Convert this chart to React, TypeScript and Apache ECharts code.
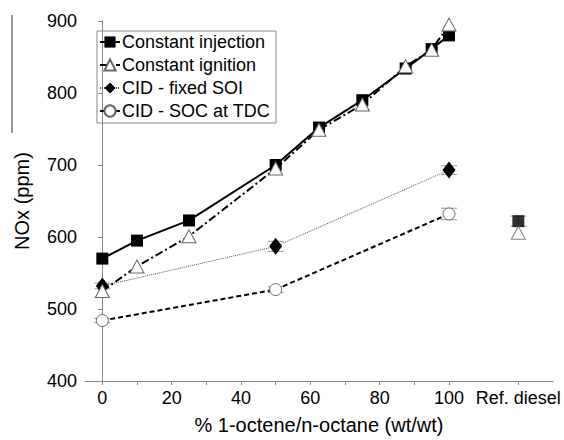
import React, { useEffect, useRef } from "react";
import * as echarts from "echarts";

const xMain = [0, 10, 25, 50, 62.5, 75, 87.5, 95, 100];
const yConstantInjection = [570, 595, 623, 700, 752, 790, 834, 861, 880];
const yConstantIgnition = [525, 559, 601, 695, 749, 784, 837, 860, 895];
const xCID = [0, 50, 100];
const yFixedSOI = [532, 587, 693];
const errFixedSOI = [4, 7, 6];
const ySOCatTDC = [484, 527, 632];
const errSOCatTDC = [3, 4, 8];
const xRefDiesel = 120;
const yRefInjection = 622;
const errRefInjection = 7;
const yRefIgnition = 606;
const xTicks = [0, 10, 20, 30, 40, 50, 60, 70, 80, 90, 100, 120];
const xLabels = [0, 20, 40, 60, 80, 100, 120];
const seriesNames = ["Constant injection", "Constant ignition", "CID - fixed SOI", "CID - SOC at TDC"];

const FONT = "'Liberation Sans', Arial, sans-serif";

export default function App() {
  const ref = useRef<HTMLDivElement>(null);
  useEffect(() => {
    if (!ref.current) return;
    const chart = echarts.init(ref.current, undefined, { renderer: "svg" });
    const pairs = (xs: number[], ys: number[]) => xs.map((x, i) => [x, ys[i]]);
    const errData = [
      ...xCID.map((x, i) => [x, yFixedSOI[i], errFixedSOI[i]]),
      ...xCID.map((x, i) => [x, ySOCatTDC[i], errSOCatTDC[i]]),
      [xRefDiesel, yRefInjection, errRefInjection],
    ];
    chart.setOption({
      animation: false,
      backgroundColor: "#fff",
      textStyle: { fontFamily: FONT },
      grid: { left: 85, right: 11, top: 21, bottom: 58 },
      legend: {
        data: seriesNames,
        orient: "vertical",
        left: 97,
        top: 31,
        padding: [2, 6, 3, 2],
        itemGap: 5,
        itemWidth: 20,
        itemHeight: 14,
        borderColor: "#888",
        borderWidth: 1,
        textStyle: { fontSize: 18, color: "#000", fontFamily: FONT, padding: [0, 0, 0, -3] },
      },
      xAxis: {
        type: "value",
        min: -5,
        max: 130,
        axisLine: { lineStyle: { color: "#888", width: 1 } },
        axisTick: { show: true, length: 4, inside: false, lineStyle: { color: "#888" }, customValues: xTicks },
        axisLabel: {
          fontSize: 18,
          color: "#000",
          margin: 8,
          customValues: xLabels,
          formatter: (v: number) => (v === xRefDiesel ? "Ref. diesel" : String(v)),
        },
        splitLine: { show: false },
        name: "% 1-octene/n-octane (wt/wt)",
        nameLocation: "middle",
        nameGap: 34,
        nameTextStyle: { fontSize: 20, color: "#000" },
      },
      yAxis: {
        type: "value",
        min: 400,
        max: 900,
        interval: 100,
        axisLine: { show: true, lineStyle: { color: "#888", width: 1 } },
        axisTick: { show: true, length: 4, lineStyle: { color: "#888" } },
        axisLabel: { fontSize: 18, color: "#000", margin: 8 },
        splitLine: { show: false },
        name: "NOx (ppm)",
        nameLocation: "middle",
        nameGap: 53,
        nameTextStyle: { fontSize: 20, color: "#000" },
      },
      series: [
        {
          type: "custom",
          name: "errors",
          z: 1,
          data: errData,
          renderItem: (params: any, api: any) => {
            const x = api.value(0);
            const y = api.value(1);
            const e = api.value(2);
            const top = api.coord([x, y + e]);
            const bot = api.coord([x, y - e]);
            const w = 8;
            const st = { stroke: "#999", lineWidth: 1 };
            return {
              type: "group",
              children: [
                { type: "line", shape: { x1: top[0], y1: top[1], x2: bot[0], y2: bot[1] }, style: st },
                { type: "line", shape: { x1: top[0] - w, y1: top[1], x2: top[0] + w, y2: top[1] }, style: st },
                { type: "line", shape: { x1: bot[0] - w, y1: bot[1], x2: bot[0] + w, y2: bot[1] }, style: st },
              ],
            };
          },
        },
        {
          type: "line",
          name: seriesNames[0],
          z: 3,
          data: pairs(xMain, yConstantInjection),
          symbol: "rect",
          symbolSize: 12,
          itemStyle: { color: "#000" },
          lineStyle: { color: "#000", width: 2, type: "solid" },
        },
        {
          type: "line",
          name: seriesNames[1],
          z: 4,
          data: pairs(xMain, yConstantIgnition),
          symbol: "triangle",
          symbolSize: [14, 13],
          itemStyle: { color: "#fff", borderColor: "#666", borderWidth: 1 },
          lineStyle: { color: "#000", width: 2, type: [8, 3, 2, 3] },
        },
        {
          type: "line",
          name: seriesNames[2],
          z: 3,
          data: pairs(xCID, yFixedSOI),
          symbol: "diamond",
          symbolSize: [13, 17],
          itemStyle: { color: "#000" },
          lineStyle: { color: "#555", width: 1, type: [1, 1] },
        },
        {
          type: "line",
          name: seriesNames[3],
          z: 3,
          data: pairs(xCID, ySOCatTDC),
          symbol: "circle",
          symbolSize: 12,
          itemStyle: { color: "#fff", borderColor: "#666", borderWidth: 1 },
          lineStyle: { color: "#000", width: 2, type: [5, 3] },
        },
        {
          type: "scatter",
          name: "Ref. diesel - injection",
          z: 3,
          data: [[xRefDiesel, yRefInjection]],
          symbol: "rect",
          symbolSize: 12,
          itemStyle: { color: "#000" },
        },
        {
          type: "scatter",
          name: "Ref. diesel - ignition",
          z: 4,
          data: [[xRefDiesel, yRefIgnition]],
          symbol: "triangle",
          symbolSize: [14, 13],
          itemStyle: { color: "#fff", borderColor: "#666", borderWidth: 1 },
        },
      ],
      graphic: [
        {
          type: "line",
          shape: { x1: 12, y1: 15, x2: 12, y2: 133 },
          style: { stroke: "#333", lineWidth: 1 },
        },
      ],
    });
    return () => chart.dispose();
  }, []);
  return <div ref={ref} style={{ width: 564, height: 440, position: "absolute", left: 0, top: 0 }} />;
}
